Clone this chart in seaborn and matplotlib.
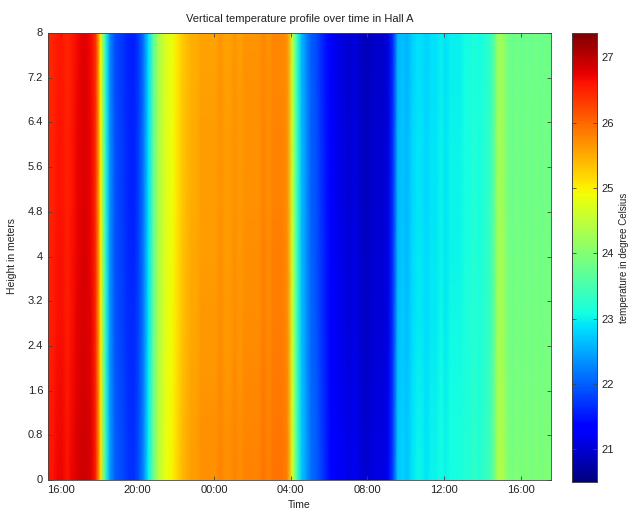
import numpy as np
import pandas as pd
import seaborn as sns
import matplotlib.pyplot as plt

plt.rcParams['font.family'] = ['Liberation Sans', 'DejaVu Sans']

# measurement times (one node every 15 min)
times = pd.date_range("2013-01-01 15:20", periods=106, freq="15min")
heights = [0, 1, 2, 3, 4, 5, 6, 7, 8]

# temperature per time node (degC)
temps = [26.5, 26.5, 26.6, 26.6, 26.5, 26.6, 26.7, 26.8, 26.8, 26.7,
         26.4, 25.0, 23.2, 22.3, 21.9, 21.8, 21.7, 21.6, 21.6, 21.8,
         22.2, 22.9, 23.7, 24.3, 24.6, 24.8, 24.9, 25.1, 25.3, 25.4,
         25.5, 25.5, 25.6, 25.6, 25.6, 25.6, 25.7, 25.6, 25.6, 25.7,
         25.6, 25.7, 25.7, 25.7, 25.7, 25.8, 25.7, 25.8, 25.8, 25.8,
         25.7, 24.6, 23.3, 22.6, 22.3, 22.0, 21.9, 21.7, 21.5, 21.3,
         21.2, 21.1, 21.1, 21.0, 21.1, 21.0, 20.9, 20.9, 21.0, 21.0,
         21.0, 21.1, 21.7, 22.6, 22.7, 22.6, 22.8, 22.9, 22.9, 22.8,
         22.9, 22.9, 23.0, 22.9, 23.0, 23.0, 23.0, 23.1, 23.1, 23.2,
         23.1, 23.2, 23.3, 23.6, 24.3, 24.2, 23.9, 23.8, 23.9, 23.8,
         23.9, 23.8, 23.9, 23.8, 23.9, 23.8]

# small offset per height level (bottom -> top)
height_offset = [0.10, 0.08, 0.05, 0.03, 0.02, 0.0, 0.0, -0.02, -0.03]

grid = pd.DataFrame(np.add.outer(height_offset, temps), index=heights,
                    columns=times)

tick_times = pd.date_range("2013-01-01 16:00", periods=7, freq="4h")
ytick_vals = [0, 0.8, 1.6, 2.4, 3.2, 4, 4.8, 5.6, 6.4, 7.2, 8]
ytick_labels = ['0', '0.8', '1.6', '2.4', '3.2', '4', '4.8', '5.6', '6.4',
                '7.2', '8']
cbar_ticks = [21, 22, 23, 24, 25, 26, 27]

fig = plt.figure(figsize=(6.33, 5.16), dpi=100)
ax = fig.add_axes([48 / 633, 36 / 516, 503 / 633, 447 / 516])
cax = fig.add_axes([572 / 633, 34 / 516, 25 / 633, 449 / 516])

sns.heatmap(grid, ax=ax, cbar_ax=cax, cmap='jet', vmin=20.5, vmax=27.37,
            shading='gouraud', cbar_kws={'ticks': cbar_ticks})

ax.set_xlim(0, len(times) - 1)
ax.set_ylim(0, len(heights) - 1)

step = times[1] - times[0]
xpos = [(t - times[0]) / step for t in tick_times]
ax.set_xticks(xpos)
ax.set_xticklabels([t.strftime('%H:%M') for t in tick_times], rotation=0)
ax.set_yticks(ytick_vals)
ax.set_yticklabels(ytick_labels, rotation=0)

for s in ax.spines.values():
    s.set_visible(True)
    s.set_linewidth(0.6)
    s.set_color('#444444')
ax.tick_params(direction='in', length=3, width=0.6, top=True, right=True,
               labelsize=8, labelcolor='#222222', color='#444444')

ax.set_title('Vertical temperature profile over time in Hall A',
             fontsize=8, color='#222222', pad=8)
ax.set_xlabel('Time', fontsize=7.5, color='#222222', labelpad=4)
ax.set_ylabel('Height in meters', fontsize=7.5, color='#222222', labelpad=8)

for s in cax.spines.values():
    s.set_visible(True)
    s.set_linewidth(0.6)
    s.set_color('#444444')
cax.tick_params(direction='in', length=3, width=0.6, left=True, right=True,
                labelsize=8, labelcolor='#222222', color='#444444')
cax.set_ylabel('temperature in degree Celsius', fontsize=7, color='#222222',
               labelpad=3)

fig.savefig('out.png', dpi=100)
